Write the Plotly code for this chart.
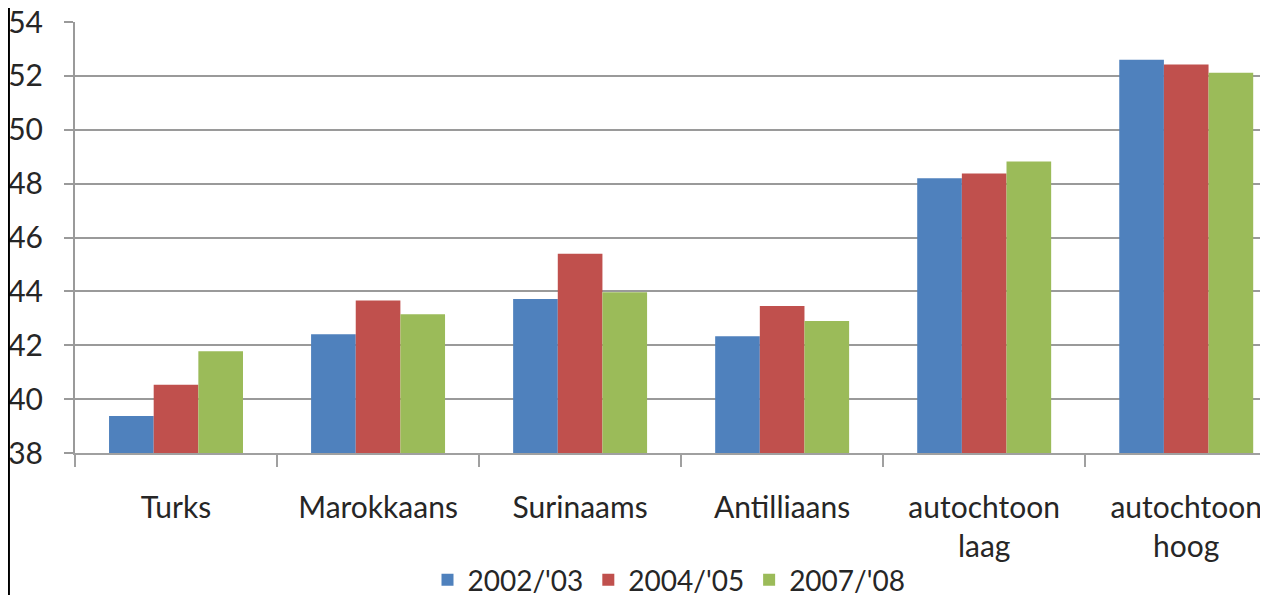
import plotly.graph_objects as go

categories = ["Turks", "Marokkaans", "Surinaams", "Antilliaans", "autochtoon<br>laag", "autochtoon<br>hoog"]
series_names = ["2002/'03", "2004/'05", "2007/'08"]
v2002 = [39.37, 42.41, 43.72, 42.33, 48.20, 52.60]
v2004 = [40.53, 43.66, 45.40, 43.46, 48.38, 52.42]
v2007 = [41.78, 43.15, 43.97, 42.90, 48.82, 52.12]
colors = ["#4F81BD", "#C0504D", "#9BBB59"]
y_ticks = [38, 40, 42, 44, 46, 48, 50, 52, 54]
BASE = 38

FONT = "Lato, 'Open Sans', sans-serif"

fig = go.Figure()
for name, vals, col in zip(series_names, [v2002, v2004, v2007], colors):
    fig.add_trace(go.Bar(
        x=categories, y=[v - BASE for v in vals], base=BASE, name=name,
        marker=dict(color=col, line=dict(width=0)),
        hovertext=[str(v) for v in vals],
    ))

fig.update_layout(
    width=1268, height=595,
    margin=dict(l=67, r=13, t=14, b=150, autoexpand=False),
    paper_bgcolor="white", plot_bgcolor="white",
    barmode="group", bargap=0.337, bargroupgap=0,
    font=dict(family=FONT, size=31, color="#262626"),
    showlegend=True,
    legend=dict(orientation="h", x=0.5, xanchor="center", y=-0.295, yanchor="middle",
                font=dict(size=28, color="#262626"), itemwidth=30, traceorder="normal"),
)
fig.update_xaxes(
    type="category", range=[-0.5, 5.38], automargin=False,
    showline=True, linecolor="#A0A0A0", linewidth=2,
    ticks="outside", ticklen=12, tickwidth=2, tickcolor="#A0A0A0",
    tickson="boundaries", showgrid=False,
    tickfont=dict(size=30, color="#262626"),
    ticklabelstandoff=27,
)
fig.update_yaxes(
    range=[38, 54], tickvals=y_ticks, ticktext=[str(t) for t in y_ticks],
    automargin=False, ticklabeloverflow="allow",
    showgrid=True, gridcolor="#9A9A9A", gridwidth=2,
    showline=True, linecolor="#9A9A9A", linewidth=2,
    ticks="outside", ticklen=9, tickwidth=2, tickcolor="#9A9A9A",
    tickfont=dict(size=30, color="#262626"),
    ticklabelstandoff=15, zeroline=False,
)

fig.add_shape(type="line", xref="paper", yref="paper",
              x0=-0.0556, x1=-0.0556, y0=1.0325, y1=-0.36,
              line=dict(color="black", width=2))

fig.write_html("out.html")
